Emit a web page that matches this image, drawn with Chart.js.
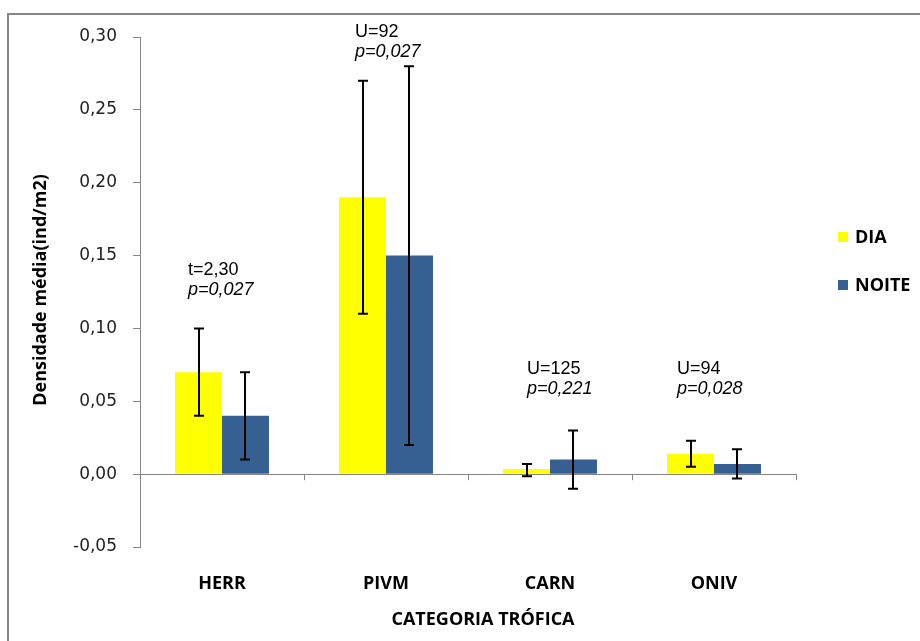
<!DOCTYPE html>
<html><head><meta charset="utf-8">
<script src="https://cdn.jsdelivr.net/npm/chart.js@4"></script>
<style>html,body{margin:0;padding:0;background:#fff;} canvas{display:block;}</style>
</head><body>
<canvas id="c" width="920" height="641"></canvas>
<script>
// ---- data ----
const categories = ['HERR', 'PIVM', 'CARN', 'ONIV'];
const seriesNames = ['DIA', 'NOITE'];
const diaValues   = [0.070, 0.190, 0.0035, 0.014];
const diaLow      = [0.040, 0.110, -0.0015, 0.005];
const diaHigh     = [0.100, 0.270, 0.007, 0.023];
const noiteValues = [0.040, 0.150, 0.010, 0.007];
const noiteLow    = [0.010, 0.020, -0.010, -0.003];
const noiteHigh   = [0.070, 0.280, 0.030, 0.017];
const yTicks = [-0.05, 0.00, 0.05, 0.10, 0.15, 0.20, 0.25, 0.30];
const statLine1 = ['t=2,30', 'U=92', 'U=125', 'U=94'];
const statLine2 = ['p=0,027', 'p=0,027', 'p=0,221', 'p=0,028'];
const yAxisTitle = 'Densidade média(ind/m2)';
const xAxisTitle = 'CATEGORIA TRÓFICA';

// ---- layout / style (not data) ----
const annotLayout = { dx: [-34, -31, -23, -37], yAt: [0.137, 0.300, 0.069, 0.069], lineGap: 20 };
const colors = ['#FFFF00', '#376092'];
const axisGray = '#868686';

const lows = [diaLow, noiteLow], highs = [diaHigh, noiteHigh];

const helpers = {
  id: 'helpers',
  beforeDraw(chart) {
    const ctx = chart.ctx;
    ctx.save();
    ctx.fillStyle = '#fff';
    ctx.fillRect(0, 0, chart.width, chart.height);
    ctx.strokeStyle = axisGray;
    ctx.lineWidth = 2;
    ctx.strokeRect(8, 14, 930, 660);
    ctx.restore();
  },
  afterDatasetsDraw(chart) {
    const ctx = chart.ctx;
    const xs = chart.scales.x, ys = chart.scales.y;
    const a = chart.chartArea;
    const y0 = ys.getPixelForValue(0);
    ctx.save();
    // zero axis line
    ctx.strokeStyle = axisGray;
    ctx.lineWidth = 1;
    ctx.beginPath();
    ctx.moveTo(a.left, Math.round(y0) + 0.5);
    ctx.lineTo(a.right, Math.round(y0) + 0.5);
    const n = categories.length;
    for (let i = 0; i <= n; i++) {
      const x = Math.round(a.left + i * (a.right - a.left) / n) + 0.5;
      ctx.moveTo(x, y0);
      ctx.lineTo(x, y0 + 6);
    }
    ctx.stroke();
    // error bars
    ctx.strokeStyle = '#000';
    ctx.lineWidth = 2;
    for (let d = 0; d < 2; d++) {
      const meta = chart.getDatasetMeta(d);
      meta.data.forEach((bar, i) => {
        const x = Math.round(bar.x);
        const yt = ys.getPixelForValue(highs[d][i]);
        const yb = ys.getPixelForValue(lows[d][i]);
        ctx.beginPath();
        ctx.moveTo(x, yt); ctx.lineTo(x, yb);
        ctx.moveTo(x - 5, yt); ctx.lineTo(x + 5, yt);
        ctx.moveTo(x - 5, yb); ctx.lineTo(x + 5, yb);
        ctx.stroke();
      });
    }
    // annotations
    ctx.fillStyle = '#000';
    ctx.textAlign = 'left';
    ctx.textBaseline = 'alphabetic';
    categories.forEach((c, i) => {
      const x = xs.getPixelForValue(i) + annotLayout.dx[i];
      const y = ys.getPixelForValue(annotLayout.yAt[i]);
      ctx.font = '18px "Liberation Sans", Arial, sans-serif';
      ctx.fillText(statLine1[i], x, y);
      ctx.font = 'italic 18px "Liberation Sans", Arial, sans-serif';
      ctx.fillText(statLine2[i], x, y + annotLayout.lineGap);
    });
    // legend
    ctx.font = 'bold 18px "Open Sans", sans-serif';
    ctx.textBaseline = 'middle';
    const legY = [237, 285];
    seriesNames.forEach((s, d) => {
      ctx.fillStyle = colors[d];
      ctx.fillRect(838, legY[d] - 5, 10, 10);
      ctx.fillStyle = '#000';
      ctx.fillText(s, 855, legY[d] + 1);
    });
    // axis titles
    ctx.font = 'bold 18px "Open Sans", sans-serif';
    ctx.textAlign = 'center';
    ctx.textBaseline = 'middle';
    ctx.save();
    ctx.translate(41, 290);
    ctx.rotate(-Math.PI / 2);
    ctx.fillText(yAxisTitle, 0, 0);
    ctx.restore();
    ctx.textBaseline = 'alphabetic';
    ctx.fillText(xAxisTitle, (a.left + a.right) / 2 + 15, 625);
    ctx.restore();
  }
};

new Chart(document.getElementById('c'), {
  type: 'bar',
  data: {
    labels: categories,
    datasets: [
      { label: seriesNames[0], data: diaValues, backgroundColor: colors[0], borderWidth: 0 },
      { label: seriesNames[1], data: noiteValues, backgroundColor: colors[1], borderWidth: 0 }
    ]
  },
  options: {
    responsive: false,
    animation: false,
    devicePixelRatio: 1,
    layout: { padding: { top: 37, right: 124, left: 0, bottom: 0 } },
    datasets: { bar: { categoryPercentage: 0.573, barPercentage: 1.0 } },
    plugins: { legend: { display: false }, tooltip: { enabled: false } },
    scales: {
      x: {
        grid: { display: false },
        border: { display: false },
        ticks: { font: { family: '"Open Sans", sans-serif', weight: 'bold', size: 18 }, color: '#000', padding: 18 },
        afterFit(s) { s.height = 94; }
      },
      y: {
        min: -0.05, max: 0.30,
        afterBuildTicks(s) { s.ticks = yTicks.map(v => ({ value: v })); },
        grid: { display: true, drawOnChartArea: false, drawTicks: true, tickLength: 7, color: axisGray },
        border: { display: true, color: axisGray, width: 1 },
        ticks: {
          font: { family: '"DejaVu Sans", sans-serif', size: 17 }, color: '#222', padding: 16,
          callback: v => v.toFixed(2).replace('.', ',')
        },
        afterFit(s) { s.width = 140; }
      }
    }
  },
  plugins: [helpers]
});
</script>
</body></html>
